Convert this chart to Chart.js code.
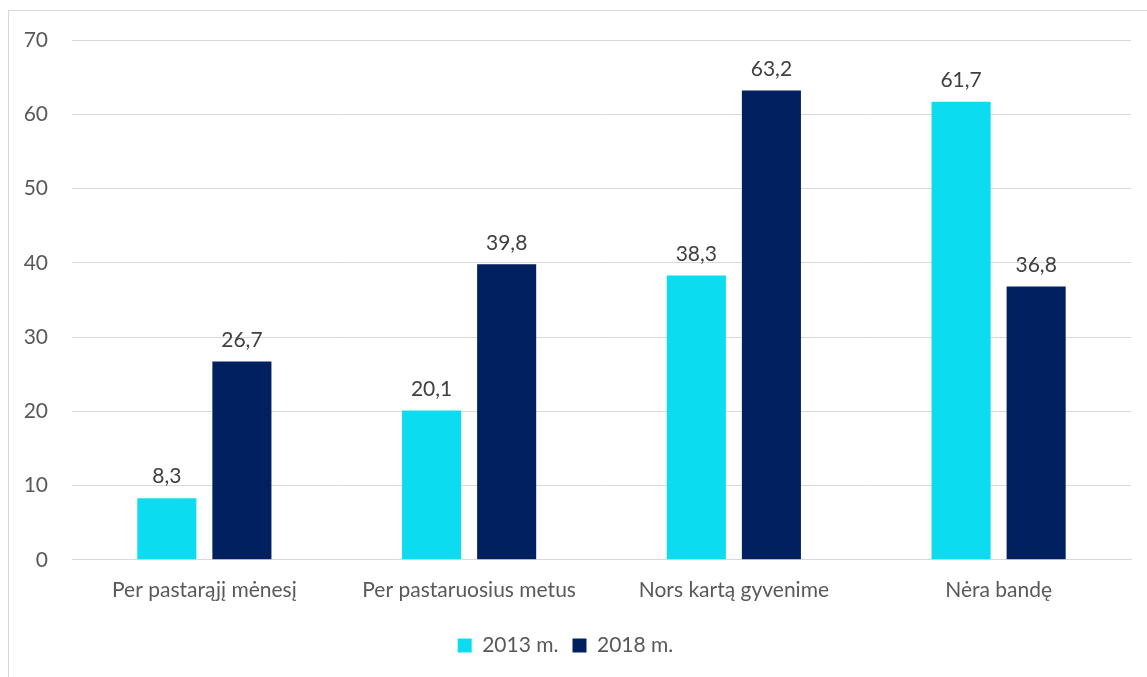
<!DOCTYPE html>
<html>
<head>
<meta charset="utf-8">
<script src="https://cdn.jsdelivr.net/npm/chart.js@4.4.1/dist/chart.umd.min.js"></script>
<style>
  html, body { margin: 0; padding: 0; background: #fff; overflow: hidden; }
  #frame { position: absolute; left: 8px; top: 10px; width: 1200px; height: 700px; border: 1px solid #d9d9d9; }
  #chart { position: absolute; left: 0; top: 0; }
</style>
</head>
<body>
<div id="frame"></div>
<canvas id="chart" width="1147" height="677"></canvas>
<script>
const categories = ['Per pastarąjį mėnesį', 'Per pastaruosius metus', 'Nors kartą gyvenime', 'Nėra bandę'];
const values2013 = [8.3, 20.1, 38.3, 61.7];
const values2018 = [26.7, 39.8, 63.2, 36.8];
const seriesNames = ['2013 m.', '2018 m.'];
const fontFamily = 'Lato, "Open Sans", sans-serif';

// value labels above each bar, decimal comma
const barLabels = {
    id: 'barLabels',
    afterDatasetsDraw(chart) {
        const ctx = chart.ctx;
        ctx.save();
        ctx.font = '21px ' + fontFamily;
        ctx.fillStyle = '#404040';
        ctx.textAlign = 'center';
        ctx.textBaseline = 'bottom';
        chart.data.datasets.forEach((ds, i) => {
            chart.getDatasetMeta(i).data.forEach((bar, j) => {
                ctx.fillText(ds.data[j].toFixed(1).replace('.', ','), bar.x, bar.y - 11);
            });
        });
        ctx.restore();
    }
};

const ctx = document.getElementById('chart').getContext('2d');
const myChart = new Chart(ctx, {
    type: 'bar',
    data: {
        labels: categories,
        datasets: [{
            label: seriesNames[0],
            data: values2013,
            backgroundColor: '#0bdcef',
            categoryPercentage: 0.567,
            barPercentage: 0.787
        }, {
            label: seriesNames[1],
            data: values2018,
            backgroundColor: '#002060',
            categoryPercentage: 0.567,
            barPercentage: 0.787
        }]
    },
    options: {
        responsive: false,
        animation: false,
        layout: { padding: { top: 40, right: 16, bottom: 11, left: 0 } },
        plugins: {
            tooltip: { enabled: false },
            legend: {
                position: 'bottom',
                labels: {
                    boxWidth: 14,
                    boxHeight: 14,
                    padding: 14,
                    color: '#595959',
                    font: { family: fontFamily, size: 21 }
                }
            }
        },
        scales: {
            x: {
                grid: { display: false, drawTicks: false },
                border: { color: '#d9d9d9' },
                ticks: { color: '#595959', padding: 18, font: { family: fontFamily, size: 21 } }
            },
            y: {
                min: 0,
                max: 70,
                afterFit(scale) { scale.width = 72; },
                grid: { color: '#d9d9d9', drawTicks: false },
                border: { display: false },
                ticks: { stepSize: 10, color: '#595959', padding: 24, font: { family: fontFamily, size: 21 } }
            }
        }
    },
    plugins: [barLabels]
});
</script>
</body>
</html>
